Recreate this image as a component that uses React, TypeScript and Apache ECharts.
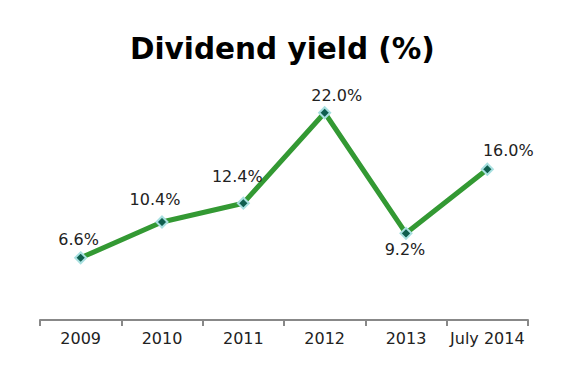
import React, { useEffect, useRef } from "react";
import * as echarts from "echarts";

const categories = ["2009", "2010", "2011", "2012", "2013", "July 2014"];
const yieldValues = [6.6, 10.4, 12.4, 22.0, 9.2, 16.0];

export default function App() {
  const ref = useRef<HTMLDivElement>(null);
  useEffect(() => {
    if (!ref.current) return;
    const chart = echarts.init(ref.current, undefined, { renderer: "svg" });
    const labelCfg = (i: number) => {
      switch (i) {
        case 0: return { position: "top", distance: 4, offset: [-2, 0] };
        case 1: return { position: "top", distance: 8, offset: [-7, 0] };
        case 2: return { position: "top", distance: 12, offset: [-6, 0] };
        case 3: return { position: "top", distance: 3, offset: [12, 0] };
        case 4: return { position: "bottom", distance: 2, offset: [-1, 0] };
        default: return { position: "top", distance: 4, offset: [21, 0] };
      }
    };
    chart.setOption({
      animation: false,
      backgroundColor: "#ffffff",
      title: {
        text: "Dividend yield (%)",
        left: 117,
        top: 21,
        textStyle: {
          fontFamily: "DejaVu Sans",
          fontWeight: "bold",
          fontSize: 29.5,
          color: "#000000",
        },
      },
      grid: { left: 32, right: 40, top: 76.5, bottom: 39 },
      xAxis: {
        type: "category",
        data: categories,
        boundaryGap: true,
        axisLine: { lineStyle: { color: "#888888", width: 2 } },
        axisTick: { show: true, interval: 0, length: 6, lineStyle: { color: "#888888", width: 2 } },
        axisLabel: {
          interval: 0,
          fontFamily: "DejaVu Sans",
          fontSize: 16,
          color: "#222222",
          margin: 10,
        },
      },
      yAxis: {
        type: "value",
        min: 0,
        max: 25,
        show: false,
        splitLine: { show: false },
      },
      series: [
        {
          type: "line",
          data: yieldValues.map((v, i) => ({
            value: v,
            label: labelCfg(i),
          })),
          lineStyle: { color: "#339933", width: 5 },
          symbol: "diamond",
          symbolSize: 11,
          itemStyle: { color: "#0f5f4f", borderColor: "#a8e0e0", borderWidth: 2 },
          label: {
            show: true,
            fontFamily: "DejaVu Sans",
            fontSize: 16,
            color: "#222222",
            formatter: (p: any) => Number(p.value).toFixed(1) + "%",
          },
        },
      ],
    });
    return () => chart.dispose();
  }, []);
  return <div ref={ref} style={{ width: 560, height: 351 }} />;
}
